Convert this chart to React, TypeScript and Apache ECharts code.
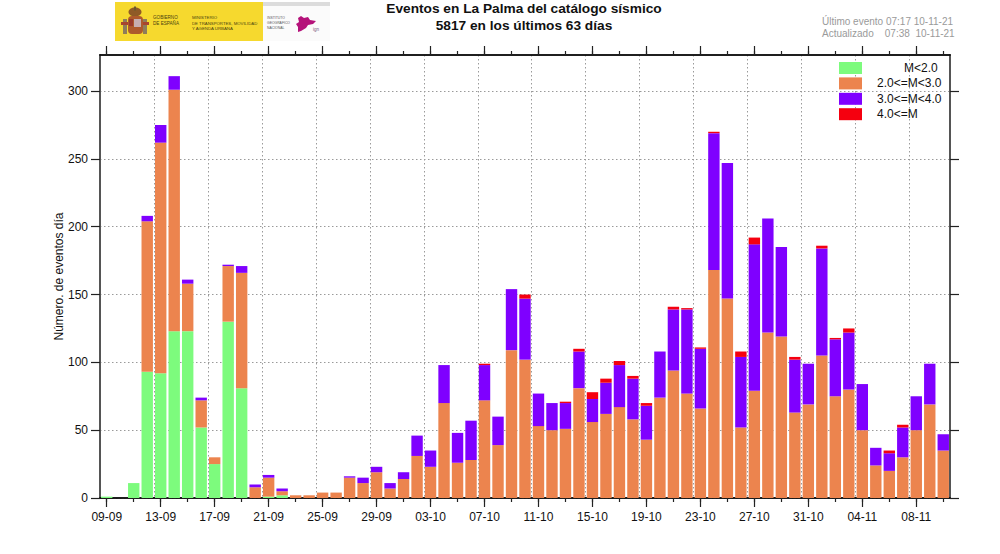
import React, { useEffect, useRef } from "react";
import * as echarts from "echarts";

const days = [
  "09-09","10-09","11-09","12-09","13-09","14-09","15-09","16-09","17-09","18-09","19-09","20-09","21-09","22-09","23-09","24-09","25-09","26-09","27-09","28-09","29-09","30-09",
  "01-10","02-10","03-10","04-10","05-10","06-10","07-10","08-10","09-10","10-10","11-10","12-10","13-10","14-10","15-10","16-10","17-10","18-10","19-10","20-10","21-10","22-10","23-10","24-10","25-10","26-10","27-10","28-10","29-10","30-10","31-10",
  "01-11","02-11","03-11","04-11","05-11","06-11","07-11","08-11","09-11","10-11",
];
const below2 = [1,0,11,93,92,123,123,52,25,130,81,0,1,2,0,0,0,0,0,0,0,0,0,0,0,0,0,0,0,0,0,0,0,0,0,0,0,0,0,0,0,0,0,0,0,0,0,0,0,0,0,0,0,0,0,0,0,0,0,0,0,0,0];
const from2to3 = [0,0,0,111,170,178,35,20,5,41,85,8,14,3,2,2,4,4,15,11,19,7,14,31,23,70,26,28,72,39,109,102,53,50,51,81,56,62,67,58,43,74,94,77,66,168,147,52,79,122,119,63,69,105,75,80,50,24,20,30,50,69,35];
const from3to4 = [0,0,0,4,13,10,3,2,0,1,5,2,2,2,0,0,0,0,1,4,4,4,5,15,12,28,22,29,26,21,45,45,24,20,19,27,17,23,31,30,25,34,45,62,44,101,100,52,108,84,66,39,30,79,42,42,34,13,13,22,25,30,12];
const from4 = [0,0,0,0,0,0,0,0,0,0,0,0,0,0,0,0,0,0,0,0,0,0,0,0,0,0,0,0,1,0,0,3,0,0,1,2,5,3,3,2,2,0,2,1,1,1,0,4,5,0,0,2,0,2,1,3,0,0,2,2,0,0,0];
const seriesNames = ["M<2.0", "2.0<=M<3.0", "3.0<=M<4.0", "4.0<=M"];
const seriesColors = ["#7DFB7D", "#EC844E", "#7F00FF", "#F5000F"];
const yTicks = [0, 50, 100, 150, 200, 250, 300];

const FONT = "'Liberation Sans', Arial, sans-serif";

function xAxisDef(position: string, every: number, length: number, labels: boolean, grid: boolean) {
  return {
    type: "category",
    data: days,
    position,
    boundaryGap: true,
    axisLine: { show: true, onZero: false, lineStyle: { color: "#111", width: 1.5 } },
    axisTick: {
      show: true,
      alignWithLabel: true,
      interval: every - 1,
      length,
      lineStyle: { color: "#222", width: 1.2 },
    },
    axisLabel: {
      show: labels,
      interval: every - 1,
      hideOverlap: false,
      margin: 13,
      fontFamily: FONT,
      fontSize: 12,
      color: "#111",
    },
    splitLine: {
      show: grid,
      interval: every - 1,
      lineStyle: { type: [1.5, 2.5], color: "#9a9a9a", width: 1 },
    },
  };
}

function yAxisDef(position: string, labels: boolean) {
  return {
    type: "value",
    position,
    min: 0,
    max: 326.6,
    name: labels ? "Número. de eventos día" : "",
    nameLocation: "middle",
    nameGap: 35,
    nameMoveOverlap: false,
    nameTextStyle: { fontFamily: FONT, fontSize: 12, color: "#111" },
    axisLine: { show: true, onZero: false, lineStyle: { color: "#555", width: 2 } },
    axisTick: { show: true, length: 9, customValues: yTicks, lineStyle: { color: "#222", width: 1.2 } },
    axisLabel: {
      show: labels,
      customValues: yTicks,
      margin: 12,
      fontFamily: FONT,
      fontSize: 12,
      color: "#111",
    },
    splitLine: {
      show: labels,
      lineStyle: { type: [1.5, 2.5], color: "#9a9a9a", width: 1 },
    },
  };
}

function logoGraphics() {
  const t = (x: number, y: number, text: string, size: number, fill = "#4a4310", lh = size + 1.2) => ({
    type: "text",
    x,
    y,
    style: { text, fontSize: size, fontFamily: FONT, fill, lineHeight: lh },
  });
  return [
    { type: "rect", shape: { x: 115, y: 2, width: 215, height: 39 }, style: { fill: "#fbfbfb" } },
    { type: "rect", shape: { x: 115, y: 2, width: 148, height: 39 }, style: { fill: "#F6D92E" } },
    { type: "rect", shape: { x: 263, y: 2, width: 67, height: 4 }, style: { fill: "#dcdcdc" } },
    // coat of arms: pillars, crown, shield
    { type: "rect", shape: { x: 123, y: 19, width: 4, height: 15 }, style: { fill: "#8f7d5a" } },
    { type: "rect", shape: { x: 143, y: 19, width: 4, height: 15 }, style: { fill: "#8f7d5a" } },
    { type: "rect", shape: { x: 121, y: 22, width: 8, height: 3 }, style: { fill: "#a8452f" } },
    { type: "rect", shape: { x: 141, y: 22, width: 8, height: 3 }, style: { fill: "#a8452f" } },
    { type: "ellipse", shape: { cx: 135, cy: 12, rx: 6.5, ry: 4.5 }, style: { fill: "#8f5a26" } },
    { type: "rect", shape: { x: 134, y: 6.5, width: 2, height: 4 }, style: { fill: "#6a5a2a" } },
    { type: "rect", shape: { x: 128, y: 16, width: 15, height: 18, r: 4 }, style: { fill: "#AE5A2C" } },
    { type: "rect", shape: { x: 134, y: 19, width: 7, height: 8 }, style: { fill: "#c7aeb0" } },
    { type: "rect", shape: { x: 129, y: 19, width: 4, height: 7 }, style: { fill: "#9a3a2c" } },
    t(153, 15, "GOBIERNO\nDE ESPAÑA", 4.6),
    t(192, 15, "MINISTERIO\nDE TRANSPORTES, MOVILIDAD\nY AGENDA URBANA", 4.3),
    t(267, 16, "INSTITUTO\nGEOGRÁFICO\nNACIONAL", 3.4, "#555"),
    {
      type: "polygon",
      shape: { points: [[298,18],[301,16],[304,18],[308,17],[310,20],[316,21],[313,24],[308,25],[306,28],[301,31],[298,32],[298,27],[296,24],[299,22]] },
      style: { fill: "#B5127A" },
    },
    t(313, 27, "ign", 4.5, "#7a5a80"),
  ];
}

export default function App() {
  const ref = useRef<HTMLDivElement>(null);
  useEffect(() => {
    const chart = echarts.init(ref.current!, undefined, { renderer: "svg" });
    const values = [below2, from2to3, from3to4, from4];
    chart.setOption({
      animation: false,
      backgroundColor: "#fff",
      title: [
        {
          text: "Eventos en La Palma del catálogo sísmico\n5817 en los últimos 63 días",
          left: 519,
          top: -5,
          textAlign: "center",
          textStyle: { fontFamily: FONT, fontSize: 13.7, fontWeight: "bold", color: "#111", lineHeight: 17 },
        },
      ],
      grid: { left: 100, right: 50, top: 55, bottom: 56, containLabel: false },
      legend: {
        left: 839,
        top: 62,
        padding: 0,
        orient: "vertical",
        data: seriesNames,
        itemWidth: 23,
        itemHeight: 12,
        itemGap: 3.4,
        icon: "rect",
        selectedMode: false,
        formatter: (name: string) => (name === "M<2.0" ? `{pad|${name}}` : name),
        textStyle: {
          fontFamily: FONT,
          fontSize: 12,
          color: "#111",
          padding: [0, 0, 0, 10],
          rich: { pad: { fontFamily: FONT, fontSize: 12, color: "#111", padding: [0, 0, 0, 27] } },
        },
      },
      xAxis: [
        xAxisDef("bottom", 4, 9, true, true),
        xAxisDef("bottom", 2, 4, false, false),
        xAxisDef("top", 4, 9, false, false),
        xAxisDef("top", 2, 4, false, false),
      ],
      yAxis: [yAxisDef("left", true), yAxisDef("right", false)],
      series: seriesNames.map((name, i) => ({
        name,
        type: "bar",
        stack: "events",
        xAxisIndex: 0,
        yAxisIndex: 0,
        barWidth: 11.4,
        itemStyle: { color: seriesColors[i] },
        data: values[i],
      })),
      graphic: {
        elements: [
          ...logoGraphics(),
          {
            type: "text",
            x: 822,
            y: 15,
            style: {
              text: "Último evento 07:17 10-11-21\nActualizado    07:38  10-11-21",
              fontFamily: FONT,
              fontSize: 10,
              lineHeight: 12,
              fill: "#9a9a9a",
            },
          },
        ],
      },
    });
    return () => chart.dispose();
  }, []);
  return <div ref={ref} style={{ position: "absolute", left: 0, top: 0, width: 1000, height: 554 }} />;
}
